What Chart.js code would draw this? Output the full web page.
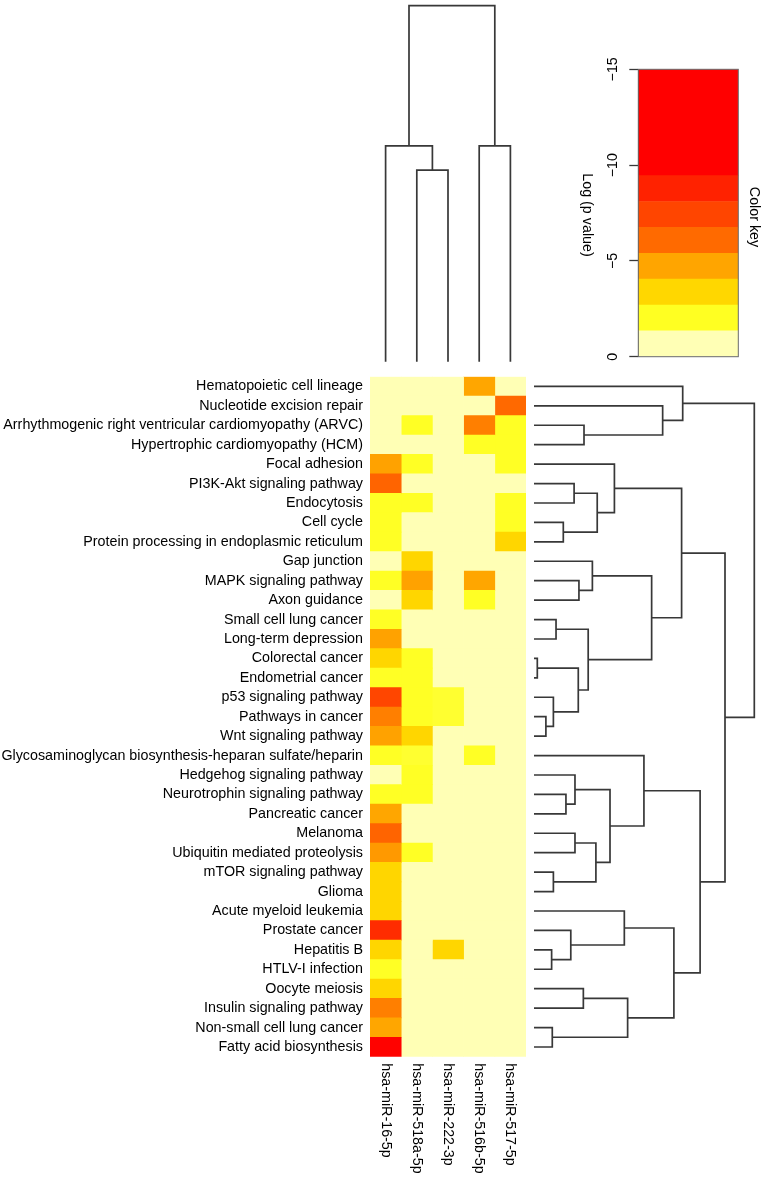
<!DOCTYPE html>
<html>
<head>
<meta charset="utf-8">
<script src="https://cdn.jsdelivr.net/npm/chart.js@4.4.1/dist/chart.umd.min.js"></script>
<style>
  html, body { margin: 0; padding: 0; background: #fff; }
  #wrap { position: relative; width: 765px; height: 1177px; }
  #wrap canvas { position: absolute; left: 0; top: 0; }
</style>
</head>
<body>
<div id="wrap">
  <canvas id="colTree" width="765" height="1177"></canvas>
  <canvas id="rowTree" width="765" height="1177"></canvas>
  <canvas id="keyChart" width="765" height="1177"></canvas>
  <canvas id="heatmap" width="765" height="1177"></canvas>
</div>
<script>
// rows of the heatmap, top to bottom
const pathways = [
  "Hematopoietic cell lineage",
  "Nucleotide excision repair",
  "Arrhythmogenic right ventricular cardiomyopathy (ARVC)",
  "Hypertrophic cardiomyopathy (HCM)",
  "Focal adhesion",
  "PI3K-Akt signaling pathway",
  "Endocytosis",
  "Cell cycle",
  "Protein processing in endoplasmic reticulum",
  "Gap junction",
  "MAPK signaling pathway",
  "Axon guidance",
  "Small cell lung cancer",
  "Long-term depression",
  "Colorectal cancer",
  "Endometrial cancer",
  "p53 signaling pathway",
  "Pathways in cancer",
  "Wnt signaling pathway",
  "Glycosaminoglycan biosynthesis-heparan sulfate/heparin",
  "Hedgehog signaling pathway",
  "Neurotrophin signaling pathway",
  "Pancreatic cancer",
  "Melanoma",
  "Ubiquitin mediated proteolysis",
  "mTOR signaling pathway",
  "Glioma",
  "Acute myeloid leukemia",
  "Prostate cancer",
  "Hepatitis B",
  "HTLV-I infection",
  "Oocyte meiosis",
  "Insulin signaling pathway",
  "Non-small cell lung cancer",
  "Fatty acid biosynthesis"
]

const mirnas = ["hsa-miR-16-5p", "hsa-miR-518a-5p", "hsa-miR-222-3p", "hsa-miR-516b-5p", "hsa-miR-517-5p"]

// log(p value) per pathway, one array per miRNA (estimated from the colours)
const mir16   = [-0.6, -0.6, -0.6, -0.6, -4.8, -6.3, -2.0, -2.0, -2.0, -0.6, -2.0, -0.6, -2.0, -4.8, -3.4, -2.0, -7.4, -5.6,
                 -4.8, -2.0, -0.6, -2.0, -4.7, -6.3, -5.0, -3.4, -3.4, -3.4, -8.4, -3.4, -2.0, -3.4, -5.6, -4.7, -12]
const mir518a = [-0.6, -0.6, -2.0, -0.6, -2.0, -0.6, -2.0, -0.6, -0.6, -3.4, -4.8, -3.4, -0.6, -0.6, -2.0, -2.0, -2.0, -2.0,
                 -3.4, -1.9, -2.0, -2.0, -0.6, -0.6, -2.0, -0.6, -0.6, -0.6, -0.6, -0.6, -0.6, -0.6, -0.6, -0.6, -0.6]
const mir222  = [-0.6, -0.6, -0.6, -0.6, -0.6, -0.6, -0.6, -0.6, -0.6, -0.6, -0.6, -0.6, -0.6, -0.6, -0.6, -0.6, -1.9, -1.9,
                 -0.6, -0.6, -0.6, -0.6, -0.6, -0.6, -0.6, -0.6, -0.6, -0.6, -0.6, -3.4, -0.6, -0.6, -0.6, -0.6, -0.6]
const mir516b = [-4.7, -0.6, -5.6, -2.0, -0.6, -0.6, -0.6, -0.6, -0.6, -0.6, -4.7, -2.0, -0.6, -0.6, -0.6, -0.6, -0.6, -0.6,
                 -0.6, -2.0, -0.6, -0.6, -0.6, -0.6, -0.6, -0.6, -0.6, -0.6, -0.6, -0.6, -0.6, -0.6, -0.6, -0.6, -0.6]
const mir517  = [-0.6, -6.1, -2.0, -2.0, -2.0, -0.6, -2.0, -2.0, -3.4, -0.6, -0.6, -0.6, -0.6, -0.6, -0.6, -0.6, -0.6, -0.6,
                 -0.6, -0.6, -0.6, -0.6, -0.6, -0.6, -0.6, -0.6, -0.6, -0.6, -0.6, -0.6, -0.6, -0.6, -0.6, -0.6, -0.6]

// colour key
const keyBreaks = [0, -1.35, -2.7, -4.05, -5.4, -6.75, -8.1, -9.45, -15]
const keyColors = ["#FFFFB5", "#FFFF22", "#FFD700", "#FFA500", "#FF6A00", "#FF4500", "#FF2200", "#FF0000"]
const keyTicks = [-15, -10, -5, 0]

// dendrograms, R style merge: negative = leaf, positive = earlier step; third value = height
const rowMerge = [
  [-15, -16, 0.015], [-18, -19, 0.054], [-30, -31, 0.080], [-34, -35, 0.083], [-17, 2, 0.088],
  [-26, -27, 0.088], [-13, -14, 0.100], [-8, -9, 0.133], [-22, -23, 0.145], [-29, 3, 0.167],
  [-6, -7, 0.182], [-21, 9, 0.186], [-24, -25, 0.186], [1, 5, 0.201], [-11, -12, 0.204],
  [-32, -33, 0.224], [-3, -4, 0.227], [7, 14, 0.246], [-10, 15, 0.265], [13, 6, 0.281],
  [11, 8, 0.287], [12, 20, 0.345], [-5, 21, 0.365], [-28, 10, 0.410], [16, 4, 0.425],
  [-20, 22, 0.499], [19, 18, 0.534], [-2, 17, 0.584], [24, 25, 0.635], [23, 27, 0.670],
  [-1, 28, 0.675], [26, 29, 0.754], [30, 32, 0.867], [31, 33, 1.0]
]
const colMerge = [[-2, -3, 0.538], [-1, 1, 0.606], [-4, -5, 0.606], [2, 3, 1.0]]

const FONT = '"Liberation Sans", Arial, Helvetica, sans-serif'
const LINE = "#383838"
Chart.defaults.font.family = FONT
Chart.defaults.color = "#000"

const common = {
  responsive: false,
  animation: false,
  devicePixelRatio: 1,
  events: [],
  plugins: { legend: { display: false }, tooltip: { enabled: false } }
}

function hexToRgb(h) {
  return [1, 3, 5].map(i => parseInt(h.slice(i, i + 2), 16))
}
const stops = keyColors.map((c, i) => ({ v: (keyBreaks[i] + keyBreaks[i + 1]) / 2, rgb: hexToRgb(c) }))
function colorFor(v) {
  if (v >= stops[0].v) return keyColors[0]
  for (let i = 1; i < stops.length; i++) {
    if (v >= stops[i].v) {
      const a = stops[i - 1], b = stops[i]
      const t = (a.v - v) / (a.v - b.v)
      const c = a.rgb.map((x, k) => Math.round(x + (b.rgb[k] - x) * t))
      return `rgb(${c[0]},${c[1]},${c[2]})`
    }
  }
  return keyColors[keyColors.length - 1]
}

function treeSegments(merge) {
  const pos = [], ht = [], out = []
  const at = k => (k < 0 ? { p: -k, h: 0 } : { p: pos[k - 1], h: ht[k - 1] })
  merge.forEach(([a, b, h]) => {
    const A = at(a), B = at(b)
    pos.push((A.p + B.p) / 2)
    ht.push(h)
    out.push([[A.h, A.p], [h, A.p], [h, B.p], [B.h, B.p]])
  })
  return out
}

function lineSet(points) {
  return {
    data: points,
    showLine: true,
    borderColor: LINE,
    borderWidth: 1.7,
    borderJoinStyle: "miter",
    pointRadius: 0,
    clip: false
  }
}

// heatmap
const columns = [mir16, mir518a, mir222, mir516b, mir517]

const colLabels = {
  id: "colLabels",
  afterDraw(chart) {
    const ctx = chart.ctx
    const x = chart.scales.x
    ctx.save()
    ctx.font = `14.3px ${FONT}`
    ctx.fillStyle = "#000"
    ctx.textAlign = "left"
    ctx.textBaseline = "middle"
    mirnas.forEach((m, c) => {
      ctx.save()
      ctx.translate(x.getPixelForValue(c + 0.5), chart.chartArea.bottom + 6.5)
      ctx.rotate(Math.PI / 2)
      ctx.fillText(m, 0, 0)
      ctx.restore()
    })
    ctx.restore()
  }
}

new Chart(document.getElementById("heatmap"), {
  type: "bar",
  data: {
    labels: pathways,
    datasets: columns.map((vals, c) => ({
      label: mirnas[c],
      data: vals.map(() => [c, c + 1]),
      backgroundColor: vals.map(colorFor),
      borderWidth: 0,
      grouped: false,
      barPercentage: 1,
      categoryPercentage: 1
    }))
  },
  options: {
    ...common,
    indexAxis: "y",
    layout: { padding: { left: 0, right: 239, top: 376.7, bottom: 120.3 } },
    scales: {
      x: { type: "linear", min: 0, max: 5, display: false },
      y: {
        type: "category",
        position: "left",
        grid: { display: false, drawTicks: false, tickLength: 0 },
        border: { display: false },
        ticks: { autoSkip: false, padding: 7, font: { size: 14.3 }, color: "#000" },
        afterFit: s => { s.width = 370 }
      }
    }
  },
  plugins: [colLabels]
})

// row dendrogram
new Chart(document.getElementById("rowTree"), {
  type: "scatter",
  data: { datasets: treeSegments(rowMerge).map(seg => lineSet(seg.map(([h, p]) => ({ x: h, y: p })))) },
  options: {
    ...common,
    layout: { padding: { left: 534, right: 10.7, top: 376.7, bottom: 120.3 } },
    scales: {
      x: { type: "linear", min: 0, max: 1, display: false },
      y: { type: "linear", min: 0.5, max: pathways.length + 0.5, reverse: true, display: false }
    }
  }
})

// column dendrogram
new Chart(document.getElementById("colTree"), {
  type: "scatter",
  data: { datasets: treeSegments(colMerge).map(seg => lineSet(seg.map(([h, p]) => ({ x: p, y: h })))) },
  options: {
    ...common,
    layout: { padding: { left: 370, right: 239, top: 5.7, bottom: 815.3 } },
    scales: {
      x: { type: "linear", min: 0.5, max: mirnas.length + 0.5, display: false },
      y: { type: "linear", min: 0, max: 1, display: false }
    }
  }
})

// colour key
const keyDecor = {
  id: "keyDecor",
  afterDraw(chart) {
    const ctx = chart.ctx
    const a = chart.chartArea
    const y = chart.scales.y
    ctx.save()
    ctx.strokeStyle = "#6a6a6a"
    ctx.lineWidth = 1
    ctx.strokeRect(a.left, a.top, a.right - a.left, a.bottom - a.top)
    ctx.fillStyle = "#000"
    ctx.font = `14.3px ${FONT}`
    ctx.textAlign = "center"
    ctx.textBaseline = "middle"
    keyTicks.forEach(t => {
      ctx.save()
      ctx.translate(613, y.getPixelForValue(t))
      ctx.rotate(-Math.PI / 2)
      ctx.fillText(t < 0 ? "\u2212" + Math.abs(t) : String(t), 0, 0)
      ctx.restore()
    })
    const mid = (a.top + a.bottom) / 2 + 2
    ctx.save()
    ctx.translate(587, mid)
    ctx.rotate(Math.PI / 2)
    ctx.fillText("Log (p value)", 0, 0)
    ctx.restore()
    ctx.save()
    ctx.translate(754, mid + 2)
    ctx.rotate(Math.PI / 2)
    ctx.fillText("Color key", 0, 0)
    ctx.restore()
    ctx.restore()
  }
}

new Chart(document.getElementById("keyChart"), {
  type: "bar",
  data: {
    labels: ["key"],
    datasets: keyColors.map((col, i) => ({
      data: [[keyBreaks[i], keyBreaks[i + 1]]],
      backgroundColor: col,
      borderWidth: 0,
      grouped: false,
      barPercentage: 1,
      categoryPercentage: 1
    }))
  },
  options: {
    ...common,
    layout: { padding: { left: 0, right: 26.7, top: 69.3, bottom: 820.3 } },
    scales: {
      x: { type: "category", display: false },
      y: {
        type: "linear",
        min: -15,
        max: 0,
        reverse: true,
        position: "left",
        afterBuildTicks: s => { s.ticks = keyTicks.map(v => ({ value: v })) },
        ticks: { display: false },
        grid: { drawOnChartArea: false, tickLength: 9, tickColor: LINE, tickWidth: 1.3 },
        border: { color: LINE, width: 1.3 },
        afterFit: s => { s.width = 638.3 }
      }
    }
  },
  plugins: [keyDecor]
})
</script>
</body>
</html>
